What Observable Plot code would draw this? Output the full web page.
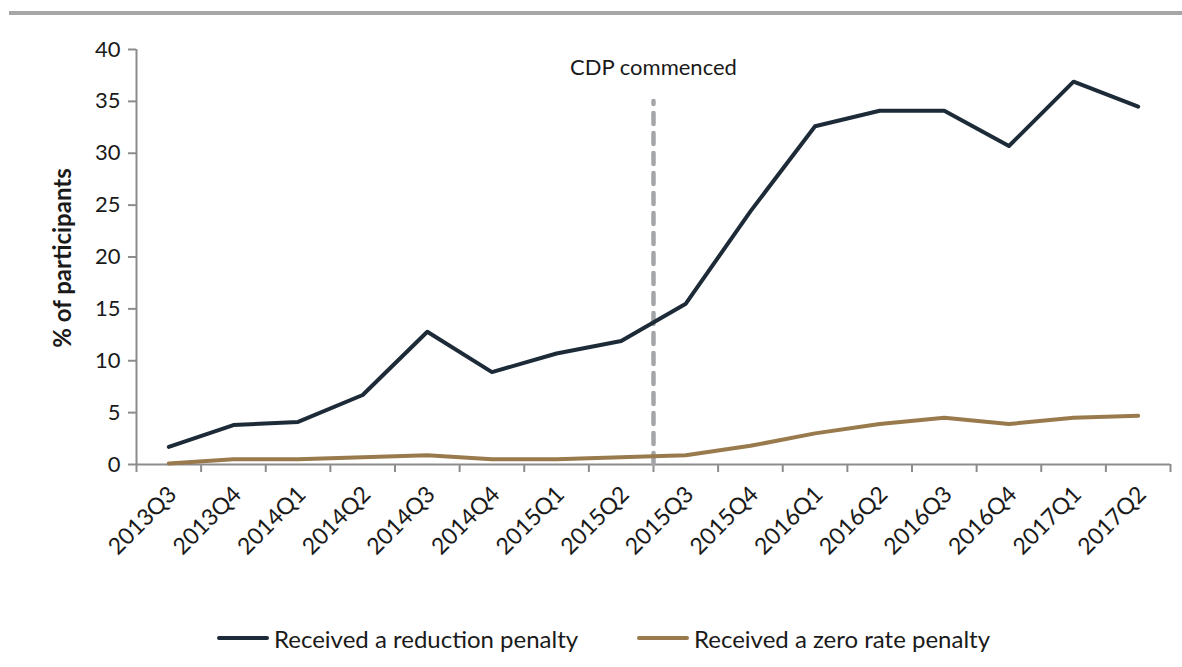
<!DOCTYPE html>
<html>
<head>
<meta charset="utf-8">
<script src="https://cdn.jsdelivr.net/npm/d3@7"></script>
<script src="https://cdn.jsdelivr.net/npm/@observablehq/plot@0.6"></script>
<style>
  html, body { margin: 0; padding: 0; background: #fff; }
  body { width: 1182px; height: 667px; position: relative; overflow: hidden; font-family: Lato, "Open Sans", sans-serif; color: #1a1a1a; }
  #topline { position: absolute; left: 9px; right: 0; top: 11px; height: 4px; background: #a6a6a6; }
  #chart { position: absolute; left: 0; top: 0; }
  #legend { position: absolute; top: 623px; left: 0; width: 1182px; height: 30px; font-size: 24px; }
  .item { position: absolute; top: 0; display: flex; align-items: center; height: 30px; }
  .sw { width: 52px; height: 4px; margin-right: 5px; border-radius: 2px; }
</style>
</head>
<body>
<div id="topline"></div>
<div id="chart"></div>
<div id="legend"></div>
<script>
const quarters = ["2013Q3","2013Q4","2014Q1","2014Q2","2014Q3","2014Q4","2015Q1","2015Q2","2015Q3","2015Q4","2016Q1","2016Q2","2016Q3","2016Q4","2017Q1","2017Q2"];
const reductionPenalty = [1.7, 3.8, 4.1, 6.7, 12.8, 8.9, 10.7, 11.9, 15.5, 24.4, 32.6, 34.1, 34.1, 30.7, 36.9, 34.5];
const zeroRatePenalty = [0.1, 0.5, 0.5, 0.7, 0.9, 0.5, 0.5, 0.7, 0.9, 1.8, 3.0, 3.9, 4.5, 3.9, 4.5, 4.7];
const yTicks = [0, 5, 10, 15, 20, 25, 30, 35, 40];
const seriesNames = ["Received a reduction penalty", "Received a zero rate penalty"];
const seriesColors = ["#1d2b38", "#987a4c"];
const cdpQuarter = "2015Q3";
const cdpLabel = "CDP commenced";
const cdpTop = 35;
const yLabel = "% of participants";

const data = quarters.map((q, i) => ({q, i, reduction: reductionPenalty[i], zero: zeroRatePenalty[i]}));
const cdpIndex = quarters.indexOf(cdpQuarter);
const axisGrey = "#8c8c8c";

const chart = Plot.plot({
  width: 1182,
  height: 600,
  marginLeft: 136,
  marginRight: 12,
  marginTop: 49,
  marginBottom: 136,
  style: {fontFamily: "Lato, 'Open Sans', sans-serif", fontSize: "22px", color: "#1a1a1a", background: "transparent"},
  x: {type: "linear", domain: [0, quarters.length], axis: null},
  y: {domain: [0, 40], axis: null},
  marks: [
    Plot.ruleY([0], {stroke: axisGrey, strokeWidth: 2}),
    Plot.ruleX([0], {stroke: axisGrey, strokeWidth: 2}),
    Plot.axisY({ticks: yTicks, tickSize: 8, tickPadding: 8, stroke: axisGrey, strokeWidth: 2, fill: "#1a1a1a", fontSize: 22, label: null}),
    Plot.axisX({ticks: d3.range(quarters.length + 1), tickSize: 8, tickFormat: () => "", stroke: axisGrey, strokeWidth: 2, label: null}),
    Plot.axisX({ticks: quarters.map((q, i) => i + 0.5), tickSize: 0, tickPadding: 26, dx: 4, tickRotate: -45, tickFormat: v => quarters[Math.floor(v)], fill: "#1a1a1a", fontSize: 23, label: null}),
    Plot.ruleX([cdpIndex], {y1: 0, y2: cdpTop, stroke: "#a3a5a8", strokeWidth: 4.5, strokeDasharray: "11,9", strokeLinecap: "round"}),
    Plot.text([cdpLabel], {x: cdpIndex, y: 38.2, text: d => d, fontSize: 22, fill: "#1a1a1a"}),
    Plot.lineY(data, {x: d => d.i + 0.5, y: "zero", stroke: seriesColors[1], strokeWidth: 4}),
    Plot.lineY(data, {x: d => d.i + 0.5, y: "reduction", stroke: seriesColors[0], strokeWidth: 4}),
    Plot.text([yLabel], {frameAnchor: "left", textAnchor: "middle", dx: -73, dy: 1, rotate: -90, text: d => d, fontWeight: "bold", fontSize: 24, fill: "#1a1a1a"})
  ]
});
document.getElementById("chart").append(chart);

const legend = document.getElementById("legend");
const legendX = [217, 637];
seriesNames.forEach((name, k) => {
  const item = document.createElement("div");
  item.className = "item";
  item.style.left = legendX[k] + "px";
  const sw = document.createElement("div");
  sw.className = "sw";
  sw.style.background = seriesColors[k];
  const t = document.createElement("span");
  t.textContent = name;
  item.append(sw, t);
  legend.append(item);
});
</script>
</body>
</html>
